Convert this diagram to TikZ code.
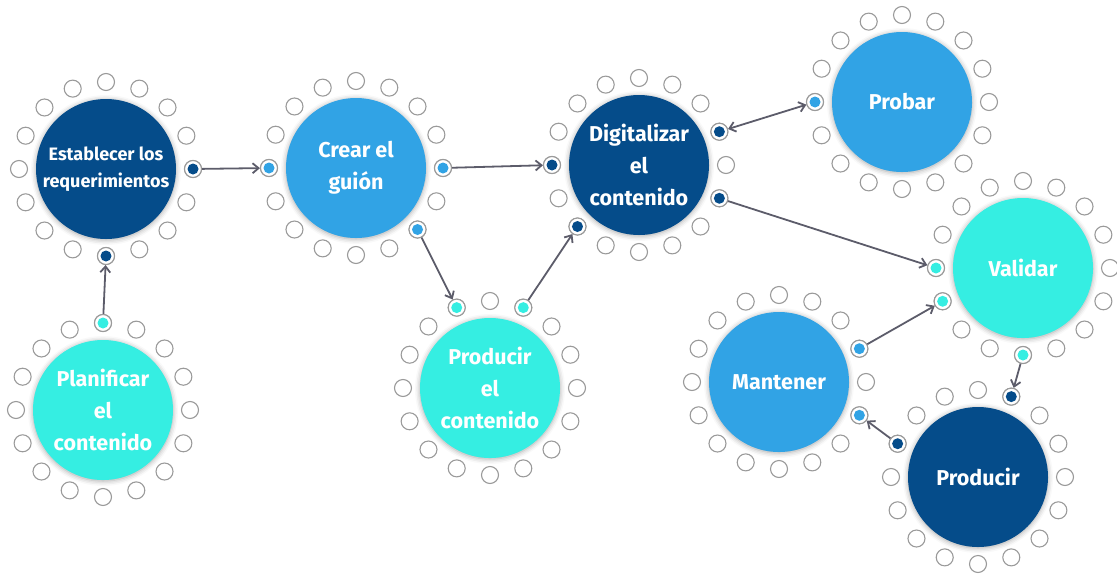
\documentclass[tikz,border=0pt]{standalone}
\usepackage{fontspec}
\setmainfont{Fira Sans}
\usetikzlibrary{calc,arrows.meta,shadows.blur}

\definecolor{navy}{HTML}{054C8A}
\definecolor{sky}{HTML}{31A3E5}
\definecolor{aqua}{HTML}{35EEE2}
\definecolor{ringgray}{HTML}{9A9A9A}
\definecolor{arrowgray}{HTML}{5C5C6A}

\tikzset{
  stage/.style={circle, minimum size=140pt, inner sep=0pt, text=white,
    align=center, font=\bfseries\fontsize{21.5}{32}\selectfont,
    blur shadow={shadow xshift=0pt, shadow yshift=-1pt, shadow blur radius=5pt, shadow opacity=35}},
  port/.style={circle, minimum size=17pt, inner sep=0pt, draw=ringgray,
    line width=1.1pt, fill=white},
  porton/.style={port, path picture={\fill[#1] (path picture bounding box.center) circle (5.5pt);}},
  arr/.style={draw=arrowgray, line width=1.8pt, -{Straight Barb[length=6pt,width=10pt]}},
}

% 16 ports round a stage, #3 are the used ones
\newcommand\ringports[3]{
  \foreach \k in {0,...,15}
    \node[port] (#1-\k) at ($(#1)+(\k*22.5:87pt)$) {};
  \foreach \k in {#3}
    \node[porton=#2] (#1-\k) at ($(#1)+(\k*22.5:87pt)$) {};
}

\begin{document}
\begin{tikzpicture}[x=1pt, y=-1pt]
\useasboundingbox (0,0) rectangle (1117,576);

\node[stage, fill=navy, font=\bfseries\fontsize{18}{27}\selectfont] (est) at (106,169) {Establecer los\\requerimientos};
\node[stage, fill=aqua] (pla) at (103,410) {Planificar\\el\\contenido};
\node[stage, fill=sky] (cre) at (356,168) {Crear el\\guión};
\node[stage, fill=aqua] (pro) at (490,388) {Producir\\el\\contenido};
\node[stage, fill=navy] (dig) at (639,165) {Digitalizar\\el\\contenido};
\node[stage, fill=sky] (prb) at (902,102) {Probar};
\node[stage, fill=aqua] (val) at (1023,268) {Validar};
\node[stage, fill=sky] (man) at (779,382) {Mantener};
\node[stage, fill=navy] (prd) at (978,477) {Producir};

\ringports{est}{navy}{0,12}
\ringports{pla}{aqua}{4}
\ringports{cre}{sky}{0,8,14}
\ringports{pro}{aqua}{3,5}
\ringports{dig}{navy}{1,8,10,15}
\ringports{prb}{sky}{8}
\ringports{val}{aqua}{8,9,12}
\ringports{man}{sky}{1,15}
\ringports{prd}{navy}{3,7}

\draw[arr] (pla-4) -- (est-12);
\draw[arr] (est-0) -- (cre-8);
\draw[arr] (cre-0) -- (dig-8);
\draw[arr] (cre-14) -- (pro-5);
\draw[arr] (pro-3) -- (dig-10);
\draw[arr, {Straight Barb[length=6pt,width=10pt]}-{Straight Barb[length=6pt,width=10pt]}] (dig-1) -- (prb-8);
\draw[arr] (dig-15) -- (val-8);
\draw[arr] (man-1) -- (val-9);
\draw[arr] (val-12) -- (prd-3);
\draw[arr] (prd-7) -- (man-15);
\end{tikzpicture}
\end{document}
